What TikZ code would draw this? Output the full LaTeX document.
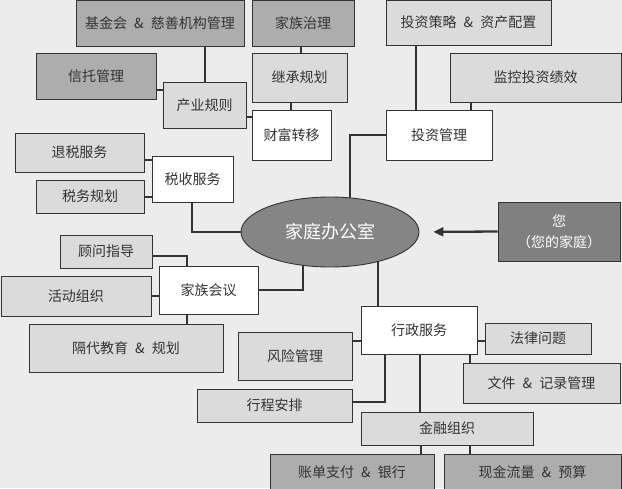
\documentclass[tikz,border=0pt]{standalone}
\usepackage{fontspec}
\setmainfont{Noto Sans CJK SC}
\usetikzlibrary{arrows.meta,backgrounds,shapes.geometric}
\definecolor{bgc}{HTML}{ECECEC}
\definecolor{dkc}{HTML}{ADADAD}
\definecolor{ltc}{HTML}{DBDBDB}
\definecolor{elc}{HTML}{858585}
\definecolor{youc}{HTML}{808080}
\definecolor{linec}{HTML}{333333}
\definecolor{txtc}{HTML}{333333}
\newcommand{\amp}{\hspace{0.5em}\&\hspace{0.5em}}
\begin{document}
\begin{tikzpicture}[x=1pt,y=-1pt,
  box/.style={draw=linec, line width=0.9pt, rectangle, inner sep=0pt, text=txtc,
    font=\fontsize{14}{16}\selectfont, align=center},
  dk/.style={box, fill=dkc},
  lt/.style={box, fill=ltc},
  wh/.style={box, fill=white},
  conn/.style={draw=linec, line width=2.3pt},
  ]
\useasboundingbox (0,0) rectangle (622,488);
% top-left cluster
\node[dk, minimum width=168pt, minimum height=46pt] (jjh) at (160,23) {基金会\amp 慈善机构管理};
\node[dk, minimum width=102pt, minimum height=46pt] (jzzl) at (303,23) {家族治理};
\node[dk, minimum width=120pt, minimum height=46pt] (xt) at (96,76) {信托管理};
\node[lt, minimum width=83pt, minimum height=46pt] (cygz) at (204.5,105) {产业规则};
\node[lt, minimum width=95pt, minimum height=49pt] (jcgh) at (299.5,77.5) {继承规划};
\node[wh, minimum width=79pt, minimum height=50pt] (cfzy) at (291.5,135) {财富转移};
% investment
\node[lt, minimum width=165pt, minimum height=45pt] (tzcl) at (468.5,22.5) {投资策略\amp 资产配置};
\node[lt, minimum width=171pt, minimum height=49pt] (jktz) at (535.5,77.5) {监控投资绩效};
\node[wh, minimum width=106pt, minimum height=50pt] (tzgl) at (439,135) {投资管理};
% tax
\node[lt, minimum width=129pt, minimum height=39pt] (tsfw) at (79.5,152.5) {退税服务};
\node[lt, minimum width=108pt, minimum height=33pt] (swgh) at (90,196.5) {税务规划};
\node[wh, minimum width=81pt, minimum height=46pt] (ssfw) at (192.5,179) {税收服务};
% center
\node[ellipse, draw=linec, line width=0.9pt, fill=elc, minimum width=178pt, minimum height=70pt,
  inner sep=0pt, text=white, font=\fontsize{18}{20}\selectfont] (ell) at (330,232) {家庭办公室};
\node[box, fill=youc, text=white, minimum width=122pt, minimum height=59pt,
  font=\fontsize{14}{21}\selectfont] (you) at (559,231.5) {您\\（您的家庭）};
% family meeting
\node[lt, minimum width=92pt, minimum height=33pt] (gwzd) at (106,251.5) {顾问指导};
\node[lt, minimum width=150pt, minimum height=40pt] (hdzz) at (76,296) {活动组织};
\node[wh, minimum width=99pt, minimum height=48pt] (jzhy) at (208.5,290) {家族会议};
\node[lt, minimum width=194pt, minimum height=48pt] (gdjy) at (126,348) {隔代教育\amp 规划};
% administration
\node[lt, minimum width=114pt, minimum height=48pt] (fxgl) at (295,356) {风险管理};
\node[lt, minimum width=155pt, minimum height=33pt] (xcap) at (274.5,405.5) {行程安排};
\node[wh, minimum width=116pt, minimum height=48pt] (xzfw) at (419,330) {行政服务};
\node[lt, minimum width=106pt, minimum height=31pt] (flwt) at (538,338.5) {法律问题};
\node[lt, minimum width=157pt, minimum height=40pt] (wjjl) at (541.5,383) {文件\amp 记录管理};
\node[lt, minimum width=172pt, minimum height=33pt] (jrzz) at (447,428.5) {金融组织};
\node[dk, minimum width=164pt, minimum height=36pt] (zdzf) at (352,472) {账单支付\amp 银行};
\node[dk, minimum width=177pt, minimum height=36pt] (xjll) at (532.5,472) {现金流量\amp 预算};
% line positions
\coordinate (x205) at (205,0);
\coordinate (x301) at (301,0);
\coordinate (x291) at (291,0);
\coordinate (x416) at (416,0);
\coordinate (x471) at (471,0);
\coordinate (x350) at (350,0);
\coordinate (x192) at (192,0);
\coordinate (x187) at (187,0);
\coordinate (x303) at (303,0);
\coordinate (x378) at (378,0);
\coordinate (x385) at (385,0);
\coordinate (x420) at (420,0);
\coordinate (x470) at (470,0);
\coordinate (x421) at (421,0);
\coordinate (y90) at (0,90);
\coordinate (y117) at (0,117);
\coordinate (y160) at (0,160);
\coordinate (y197) at (0,197);
\coordinate (y256) at (0,256);
\coordinate (y341) at (0,341);
\coordinate (y402) at (0,402);
\begin{scope}[on background layer]
\fill[bgc] (0,0) rectangle (622,488);
\draw[conn] (x205 |- jjh.south) -- (x205 |- cygz.north);
\draw[conn] (xt.east |- y90) -- (cygz.west |- y90);
\draw[conn] (cygz.east |- y117) -- (cfzy.west |- y117);
\draw[conn] (x301 |- jzzl.south) -- (x301 |- jcgh.north);
\draw[conn] (x291 |- jcgh.south) -- (x291 |- cfzy.north);
\draw[conn] (x416 |- tzcl.south) -- (x416 |- tzgl.north);
\draw[conn] (x471 |- jktz.south) -- (x471 |- tzgl.north);
\draw[conn] (tzgl.west) -| (x350 |- ell.center);
\draw[conn] (x192 |- ssfw.south) |- (ell.west);
\draw[conn] (tsfw.east |- y160) -- (ssfw.west |- y160);
\draw[conn] (swgh.east |- y197) -- (ssfw.west |- y197);
\draw[conn] (gwzd.east |- y256) -| (x187 |- jzhy.north);
\draw[conn] (hdzz.east) -- (jzhy.west |- hdzz.east);
\draw[conn] (x187 |- jzhy.south) -- (x187 |- gdjy.north);
\draw[conn] (jzhy.east) -| (x303 |- ell.center);
\draw[conn] (x378 |- ell.center) -- (x378 |- xzfw.north);
\draw[conn] (xzfw.west |- y341) -- (fxgl.east |- y341);
\draw[conn] (x385 |- xzfw.south) |- (xcap.east |- y402);
\draw[conn] (x420 |- xzfw.south) -- (x420 |- jrzz.north);
\draw[conn] (xzfw.east |- y341) -- (flwt.west |- y341);
\draw[conn] (x470 |- xzfw.south) -- (x470 |- wjjl.north);
\draw[conn] (x421 |- jrzz.south) -- (x421 |- zdzf.north);
\draw[conn] (x470 |- jrzz.south) -- (x470 |- xjll.north);
\draw[conn, -{Triangle[length=10pt,width=9pt]}, shorten >=14pt] (you.west) -- (ell.east);
\end{scope}
\end{tikzpicture}
\end{document}
